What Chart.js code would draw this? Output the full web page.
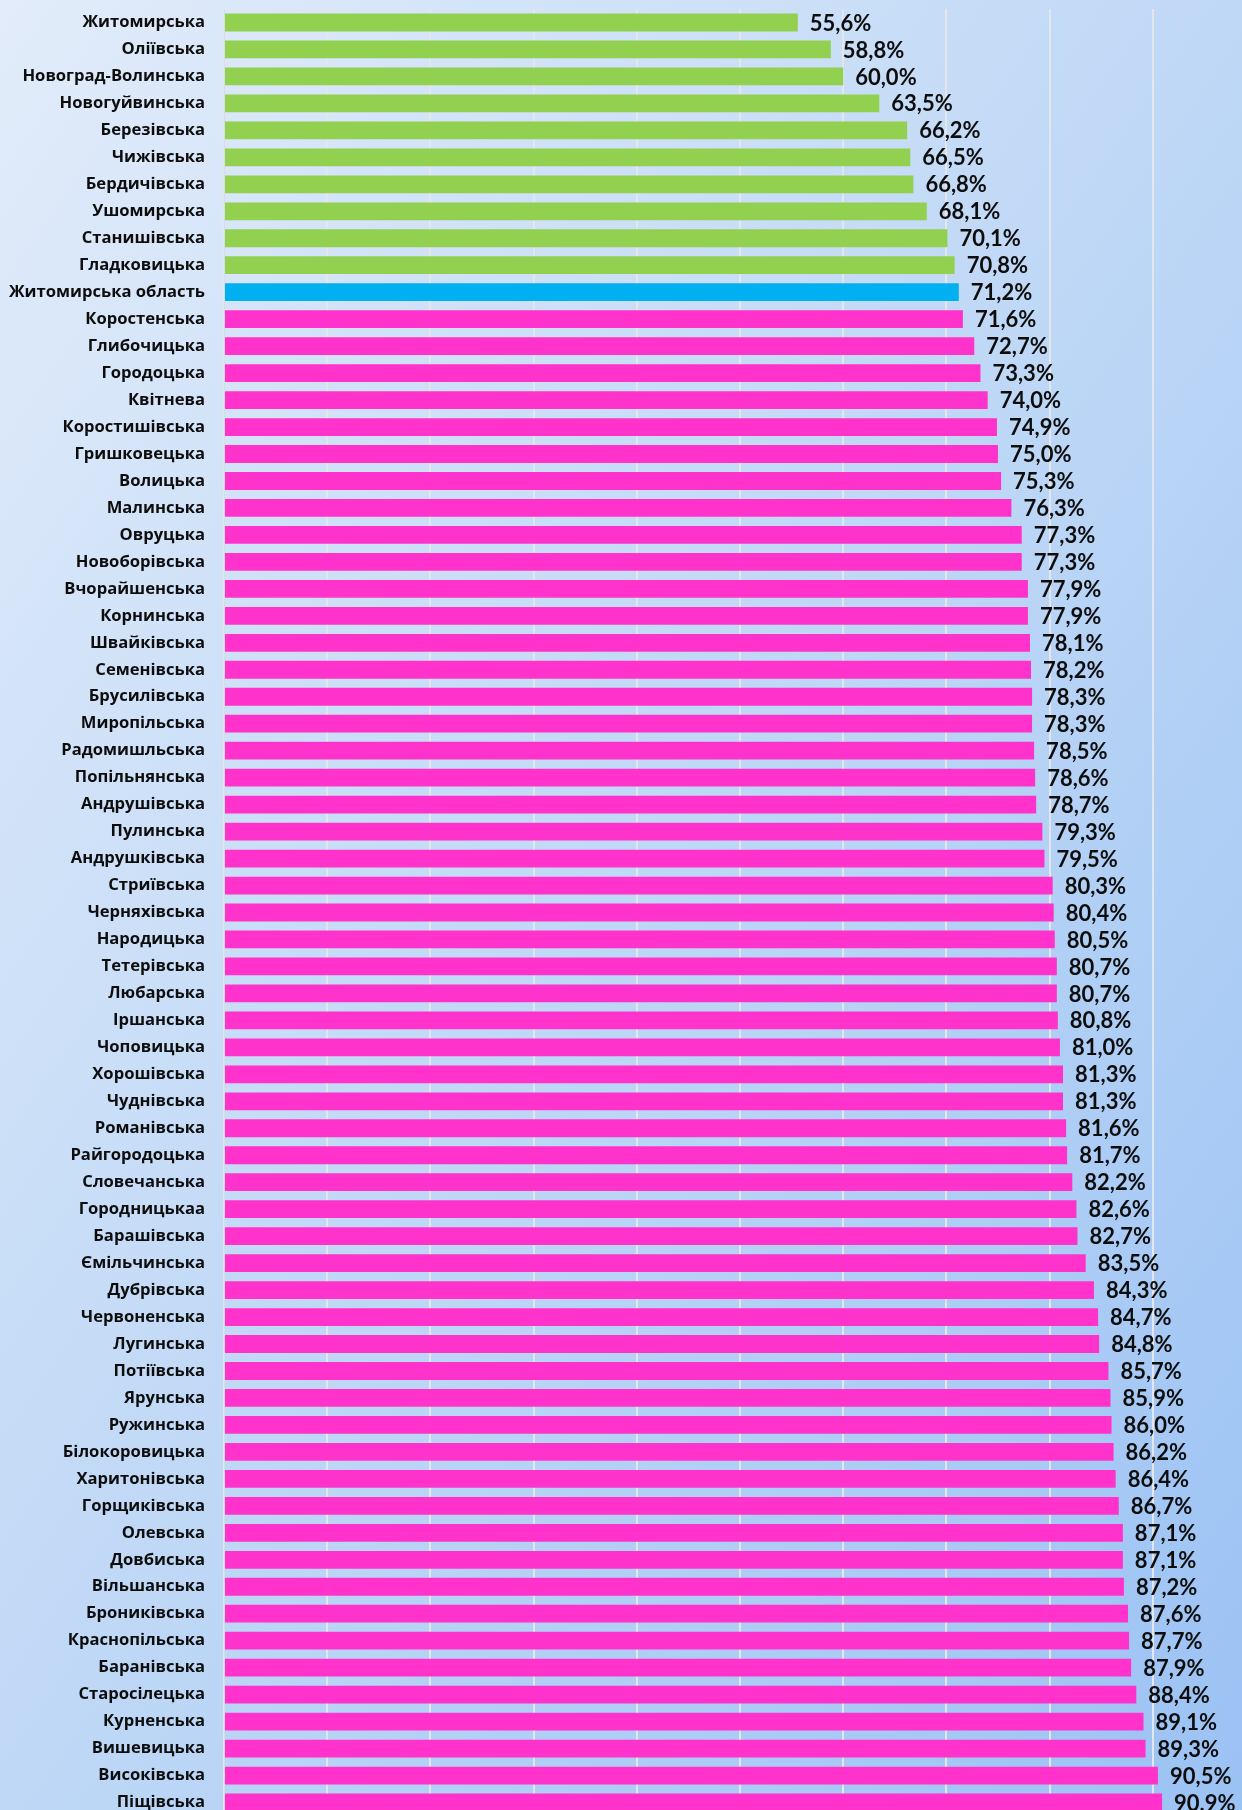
<!DOCTYPE html>
<html>
<head>
<meta charset="utf-8">
<script src="https://cdn.jsdelivr.net/npm/chart.js@4.4.1/dist/chart.umd.min.js"></script>
<style>
  html, body {
    margin: 0;
    padding: 0;
    width: 1242px;
    height: 1810px;
    overflow: hidden;
    background: linear-gradient(to bottom right, #e2ecfa 0%, #bfd8f6 50%, #9bc2f4 100%);
  }
  #wrap {
    position: absolute;
    left: 0;
    top: 0;
    width: 1262px;
    height: 1816px;
  }
</style>
</head>
<body>
<div id="wrap"><canvas id="chart"></canvas></div>
<script>
const communities = [
  'Житомирська', 'Оліївська', 'Новоград-Волинська', 'Новогуйвинська', 'Березівська',
  'Чижівська', 'Бердичівська', 'Ушомирська', 'Станишівська', 'Гладковицька',
  'Житомирська область', 'Коростенська', 'Глибочицька', 'Городоцька', 'Квітнева',
  'Коростишівська', 'Гришковецька', 'Волицька', 'Малинська', 'Овруцька',
  'Новоборівська', 'Вчорайшенська', 'Корнинська', 'Швайківська', 'Семенівська',
  'Брусилівська', 'Миропільська', 'Радомишльська', 'Попільнянська', 'Андрушівська',
  'Пулинська', 'Андрушківська', 'Стриївська', 'Черняхівська', 'Народицька',
  'Тетерівська', 'Любарська', 'Іршанська', 'Чоповицька', 'Хорошівська',
  'Чуднівська', 'Романівська', 'Райгородоцька', 'Словечанська', 'Городницькаа',
  'Барашівська', 'Ємільчинська', 'Дубрівська', 'Червоненська', 'Лугинська',
  'Потіївська', 'Ярунська', 'Ружинська', 'Білокоровицька', 'Харитонівська',
  'Горщиківська', 'Олевська', 'Довбиська', 'Вільшанська', 'Броників­ська',
  'Краснопільська', 'Баранівська', 'Старосілецька', 'Курненська', 'Вишевицька',
  'Високівська', 'Піщівська'
]

const shares = [
  55.6, 58.8, 60.0, 63.5, 66.2,
  66.5, 66.8, 68.1, 70.1, 70.8,
  71.2, 71.6, 72.7, 73.3, 74.0,
  74.9, 75.0, 75.3, 76.3, 77.3,
  77.3, 77.9, 77.9, 78.1, 78.2,
  78.3, 78.3, 78.5, 78.6, 78.7,
  79.3, 79.5, 80.3, 80.4, 80.5,
  80.7, 80.7, 80.8, 81.0, 81.3,
  81.3, 81.6, 81.7, 82.2, 82.6,
  82.7, 83.5, 84.3, 84.7, 84.8,
  85.7, 85.9, 86.0, 86.2, 86.4,
  86.7, 87.1, 87.1, 87.2, 87.6,
  87.7, 87.9, 88.4, 89.1, 89.3,
  90.5, 90.9
]

const regionName = 'Житомирська область'
const regionValue = shares[communities.indexOf(regionName)]

const barColor = (ctx) => {
  const name = communities[ctx.dataIndex]
  const v = shares[ctx.dataIndex]
  if (name === regionName) return '#00b0f0'
  if (v < regionValue) return '#92d050'
  return '#ff33cc'
}

// value labels at the end of each bar
const valueLabels = {
  id: 'valueLabels',
  afterDatasetsDraw(chart) {
    const ctx = chart.ctx
    const meta = chart.getDatasetMeta(0)
    ctx.save()
    ctx.font = 'bold 22px Lato'
    ctx.fillStyle = '#0d0d0d'
    ctx.textAlign = 'left'
    ctx.textBaseline = 'middle'
    meta.data.forEach((bar, i) => {
      const txt = shares[i].toFixed(1).replace('.', ',') + '%'
      ctx.fillText(txt, bar.x + 12, bar.y + 1)
    })
    ctx.restore()
  }
}

new Chart(document.getElementById('chart'), {
  type: 'bar',
  data: {
    labels: communities,
    datasets: [
      {
        data: shares,
        backgroundColor: barColor,
        borderWidth: 0,
        barPercentage: 0.66,
        categoryPercentage: 1
      }
    ]
  },
  options: {
    indexAxis: 'y',
    responsive: true,
    maintainAspectRatio: false,
    animation: false,
    layout: {
      padding: { top: 9, right: 6, bottom: 0, left: 0 }
    },
    plugins: {
      legend: { display: false },
      tooltip: { enabled: false }
    },
    scales: {
      x: {
        min: 0,
        max: 100,
        ticks: { display: false, stepSize: 10 },
        grid: { color: '#e3e6eb', lineWidth: 2, drawTicks: false },
        border: { display: false }
      },
      y: {
        afterFit: (scale) => {
          scale.width = 224
          // labels should not push the plot area in
          scale.paddingTop = 0
          scale.paddingBottom = 0
        },
        ticks: {
          color: '#0d0d0d',
          padding: 19,
          autoSkip: false,
          font: { family: 'Open Sans', weight: 'bold', size: 16.6 }
        },
        grid: { display: false, drawTicks: false },
        border: { display: true, color: '#d9dde3', width: 1 }
      }
    }
  },
  plugins: [valueLabels]
})
</script>
</body>
</html>
